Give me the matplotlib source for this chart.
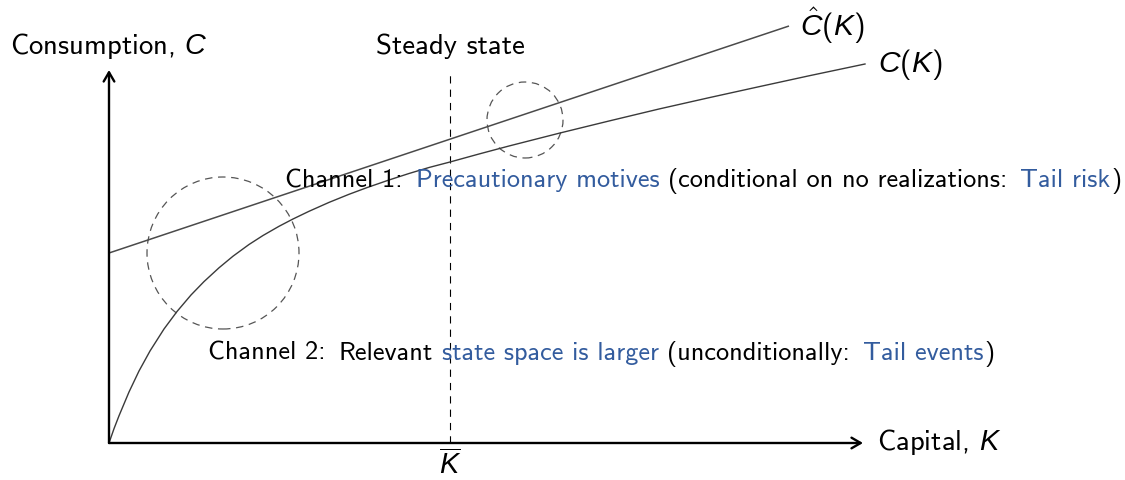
import matplotlib
matplotlib.use("Agg")
import matplotlib.pyplot as plt
from matplotlib.patches import Circle
import matplotlib.transforms as mtransforms

plt.rcParams['font.family'] = ['cmss10', 'DejaVu Sans']
plt.rcParams['mathtext.fontset'] = 'custom'
plt.rcParams['mathtext.rm'] = 'cmss10'
plt.rcParams['mathtext.it'] = 'Liberation Sans:italic'
plt.rcParams['axes.unicode_minus'] = False

# ---- data (units: capital K on x, consumption C on y) ----
K_curve = [0.00, 0.05, 0.10, 0.20, 0.30, 0.41, 0.55, 0.68, 0.82, 0.95,
           1.10, 1.24, 1.40, 1.54, 1.70, 1.84, 2.00, 2.20, 2.40, 2.58,
           2.80, 3.00, 3.20, 3.41, 3.70, 4.00, 4.51, 5.00, 5.50, 6.00,
           6.50, 7.00, 7.56]
C_curve = [0.000, 0.143, 0.272, 0.510, 0.720, 0.920, 1.140, 1.315, 1.480, 1.614,
           1.752, 1.868, 1.985, 2.075, 2.167, 2.240, 2.317, 2.406, 2.487, 2.554,
           2.630, 2.695, 2.755, 2.810, 2.890, 2.970, 3.100, 3.220, 3.340, 3.453,
           3.563, 3.672, 3.790]
K_hat = [0.00, 6.80]
C_hat = [1.90, 4.17]
K_bar = 3.41
circle_K = [1.14, 4.16]
circle_C = [1.90, 3.23]
circle_r = [0.76, 0.38]

BLUE = '#335c9e'
BLACK = '#000000'
FS = 18.9       # channel annotations
FS_LAB = 20.7   # axis / curve labels
FS_MATH = 21.5

fig = plt.figure(figsize=(11.25, 4.8), dpi=100)
ax = fig.add_axes([0, 0, 1, 1])
ax.set_xlim(-1.09, 10.16)
ax.set_ylim(-0.37, 4.43)
ax.set_aspect('equal')
ax.axis('off')

# axes arrows
arrow_kw = dict(arrowstyle='->,head_length=0.55,head_width=0.32', lw=1.7,
                color='black', shrinkA=0, shrinkB=0, mutation_scale=12)
ax.annotate('', xy=(7.54, 0), xytext=(0, 0), arrowprops=arrow_kw)
ax.annotate('', xy=(0, 3.73), xytext=(0, 0), arrowprops=arrow_kw)

# steady state dashed line
ax.plot([K_bar, K_bar], [0, 3.70], color='black', lw=0.8,
        linestyle=(0, (6.5, 5.5)))

# curves
ax.plot(K_hat, C_hat, color='#4a4a4a', lw=1.1, solid_capstyle='butt')
ax.plot(K_curve, C_curve, color='#3a3a3a', lw=1.0, solid_joinstyle='round')

# dashed circles
for ck, cc, r in zip(circle_K, circle_C, circle_r):
    ax.add_patch(Circle((ck, cc), r, fill=False, edgecolor='#555555',
                        lw=0.9, linestyle=(0, (6, 4.5))))

# labels
ax.text(0, 3.89, r'Consumption, $C$', ha='center', va='baseline', fontsize=FS_LAB)
ax.text(K_bar, 3.89, 'Steady state', ha='center', va='baseline', fontsize=FS_LAB)
ax.text(K_hat[-1] + 0.11, C_hat[-1], r'$\hat{C}(K)$', ha='left',
        va='center', fontsize=FS_MATH)
ax.text(K_curve[-1] + 0.13, C_curve[-1] - 0.01, r'$C(K)$', ha='left',
        va='center', fontsize=FS_MATH)
ax.text(7.68, -0.07, r'Capital, $K$', ha='left', va='baseline', fontsize=FS_LAB)
ax.text(K_bar, -0.36, r'$\overline{K}$', ha='center', va='bottom', fontsize=FS_LAB)

renderer = fig.canvas.get_renderer()


def width(s):
    t = ax.text(0, 0, s, fontsize=FS)
    w = t.get_window_extent(renderer).width
    t.remove()
    return w


space = width('n n') - width('nn')


def multicolor(x, y, parts):
    trans = ax.transData
    for s, c, gap in parts:
        ax.text(x, y, s, color=c, fontsize=FS, ha='left', va='baseline',
                transform=trans)
        dx = width(s) + gap * space
        trans = mtransforms.offset_copy(trans, fig=fig, x=dx, y=0,
                                        units='dots')


multicolor(1.76, 2.56, [
    ('Channel 1:', BLACK, 1.5),
    ('Precautionary motives', BLUE, 1.0),
    ('(conditional on no realizations:', BLACK, 1.5),
    ('Tail risk', BLUE, 0.1),
    (')', BLACK, 0),
])
multicolor(0.99, 0.83, [
    ('Channel 2:', BLACK, 1.5),
    ('Relevant', BLACK, 1.0),
    ('state space is larger', BLUE, 1.0),
    ('(unconditionally:', BLACK, 1.5),
    ('Tail events', BLUE, 0.1),
    (')', BLACK, 0),
])

fig.savefig('out.png', dpi=100)
